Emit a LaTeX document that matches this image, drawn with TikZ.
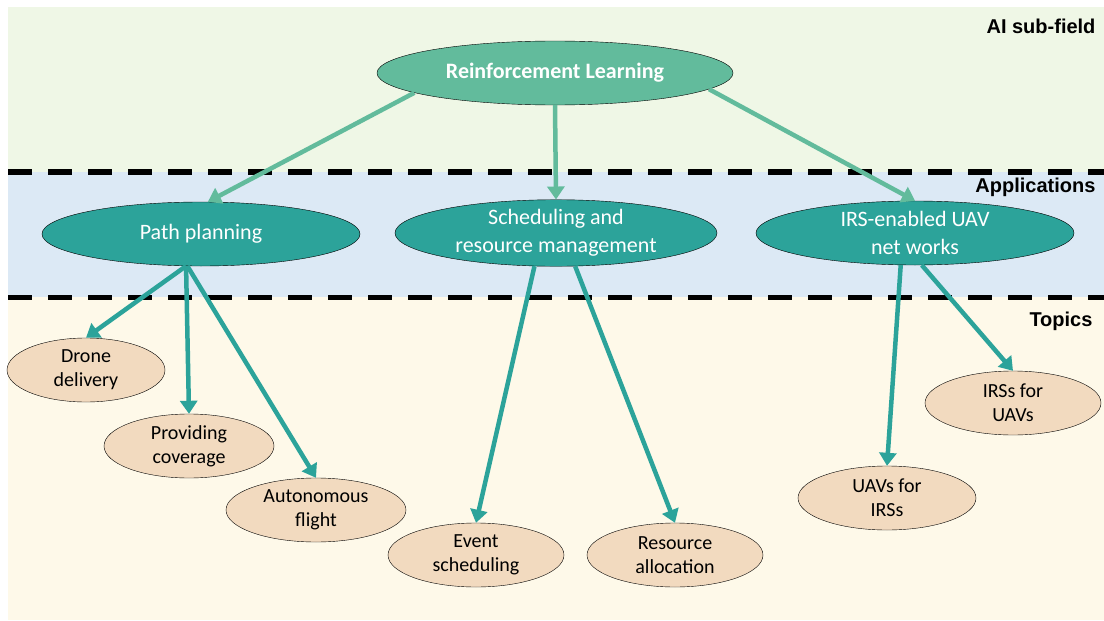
\documentclass[tikz,border=0pt]{standalone}
\usepackage{fontspec}
\setmainfont{Carlito}
\newfontfamily\headfont{Liberation Sans}
\usepackage{xcolor}
\usepackage{tikz}
\usetikzlibrary{shapes.geometric,arrows.meta}

\definecolor{bandgreen}{HTML}{EFF7E6}
\definecolor{bandblue}{HTML}{DCE9F5}
\definecolor{bandcream}{HTML}{FEF9E9}
\definecolor{rlgreen}{HTML}{62BB9C}
\definecolor{appteal}{HTML}{2CA39A}
\definecolor{topicbeige}{HTML}{F2DABF}

\tikzset{
  fieldell/.style={ellipse,draw=black,thin,fill=rlgreen,inner sep=0pt,
    minimum width=356pt,minimum height=64pt,text=white,
    font=\fontsize{22}{28}\selectfont\bfseries},
  appell/.style={ellipse,draw=black,thin,fill=appteal,inner sep=0pt,
    minimum width=318pt,minimum height=64pt,text=white,align=center,
    font=\fontsize{22}{28}\selectfont},
  topicell/.style={ellipse,draw=black,thin,fill=topicbeige,inner sep=0pt,
    minimum width=176pt,minimum height=64pt,align=center,
    font=\fontsize{20}{24}\selectfont},
  heading/.style={anchor=east,font=\headfont\fontsize{20}{23}\selectfont\bfseries},
  bandline/.style={line width=5.5pt,dash pattern=on 24pt off 16pt},
  rlarrow/.style={draw=rlgreen,line width=4.5pt,-{Triangle[length=13pt,width=17pt]}},
  apparrow/.style={draw=appteal,line width=4.5pt,-{Triangle[length=13pt,width=17pt]}}
}

\begin{document}
\begin{tikzpicture}[x=1pt,y=-1pt]
	\useasboundingbox (0,0) rectangle (1104,621);
	% bands
	\fill[bandgreen] (8,7) rectangle (1104,172);
	\fill[bandblue] (8,172) rectangle (1104,297);
	\fill[bandcream] (8,297) rectangle (1104,620);
	\draw[bandline] (8,172) -- (1104,172);
	\draw[bandline] (8,297.5) -- (1104,297.5);
	% band labels
	\node[heading] (hfield) at (1099,26){AI sub-field};
	\node[heading] (happ) at (1099,187){Applications};
	\node[heading] (htop) at (1096,321){Topics};

	% AI sub-field
	\node[fieldell] (rl) at (555,73){Reinforcement Learning};

	% applications
	\node[appell] (path) at (201,234){Path planning};
	\node[appell,minimum width=322pt] (sched) at (556,233){Scheduling and\\resource management};
	\node[appell] (irs) at (915,233){IRS-enabled UAV\\net works};

	% topics
	\node[topicell,minimum width=158pt] (drone) at (86,370){Drone\\delivery};
	\node[topicell,minimum width=170pt] (cover) at (189,446){Providing\\coverage};
	\node[topicell,minimum width=180pt] (auto) at (316,510){Autonomous\\flight};
	\node[topicell] (event) at (476,555){Event\\scheduling};
	\node[topicell] (alloc) at (675,555){Resource\\allocation};
	\node[topicell,minimum width=178pt] (uavirs) at (887,498){UAVs for\\IRSs};
	\node[topicell] (irsuav) at (1013,403){IRSs for\\UAVs};

	% RL -> applications
	\draw[rlarrow] (rl.188) -- (path.78);
	\draw[rlarrow] (rl.south) -- (sched.north);
	\draw[rlarrow] (rl.354) -- (irs.north);

	% applications -> topics
	\draw[apparrow] (path.245) -- (drone.north);
	\draw[apparrow] (path.245) -- (cover.north);
	\draw[apparrow] (path.247) -- (auto.north);
	\draw[apparrow] (sched.237) -- (event.north);
	\draw[apparrow] (sched.300) -- (alloc.north);
	\draw[apparrow] (irs.246) -- (uavirs.north);
	\draw[apparrow] (irs.282) -- (irsuav.north);
\end{tikzpicture}
\end{document}
